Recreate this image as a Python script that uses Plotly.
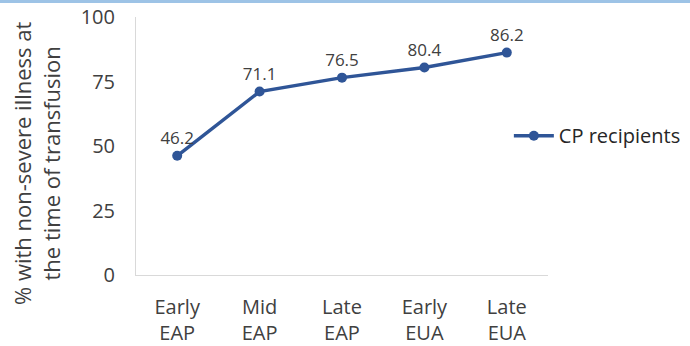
import plotly.graph_objects as go

categories = ["Early<br>EAP", "Mid<br>EAP", "Late<br>EAP", "Early<br>EUA", "Late<br>EUA"]
values = [46.2, 71.1, 76.5, 80.4, 86.2]
series_name = "CP recipients"
y_ticks = [0, 25, 50, 75, 100]
y_title = "% with non-severe illness at<br>the time of transfusion"

FONT = "Open Sans"
LINE = "#2f5597"
TXT = "#404040"

L, R, T, B = 136, 142, 17, 71
PH = 346 - T - B
PW = 690 - L - R

fig = go.Figure()
fig.add_trace(go.Scatter(
    x=categories, y=values, name=series_name,
    mode="lines+markers+text",
    line=dict(color=LINE, width=3.5),
    marker=dict(color=LINE, size=10),
    text=[f"{v:.1f}" for v in values],
    textposition="top center",
    textfont=dict(family=FONT, size=17, color=TXT),
    cliponaxis=False,
))

fig.update_layout(
    width=690, height=346,
    margin=dict(l=L, r=R, t=T, b=B, autoexpand=False),
    paper_bgcolor="white", plot_bgcolor="white",
    font=dict(family=FONT, color=TXT),
    showlegend=True,
    legend=dict(x=0.905, y=0.54, xanchor="left", yanchor="middle",
                font=dict(family=FONT, size=20, color="#262626"),
                bgcolor="rgba(0,0,0,0)", itemwidth=40),
    xaxis=dict(
        showline=True, linecolor="#d9d9d9", linewidth=1, automargin=False,
        showgrid=False, ticks="outside", ticklen=14, tickcolor="rgba(0,0,0,0)",
        tickfont=dict(family=FONT, size=20, color=TXT),
        range=[-0.5, 4.5],
    ),
    yaxis=dict(
        range=[0, 100], tickvals=y_ticks, showgrid=False, automargin=False,
        showline=True, linecolor="#d9d9d9", linewidth=1,
        ticks="outside", ticklen=16, tickcolor="rgba(0,0,0,0)",
        tickfont=dict(family=FONT, size=20, color=TXT),
        zeroline=False,
    ),
)
fig.add_annotation(
    text=y_title, textangle=-90, showarrow=False,
    xref="paper", yref="paper",
    x=(36 - L) / PW, y=(346 - B - 163) / PH,
    xanchor="center", yanchor="middle",
    font=dict(family=FONT, size=22, color=TXT),
)
fig.add_shape(type="rect", xref="paper", yref="paper",
              x0=-L / PW, x1=1 + R / PW,
              y0=1 + (T - 3) / PH, y1=1 + T / PH,
              line=dict(width=0), fillcolor="#9dc3e6", layer="below")

fig.write_html("out.html")
